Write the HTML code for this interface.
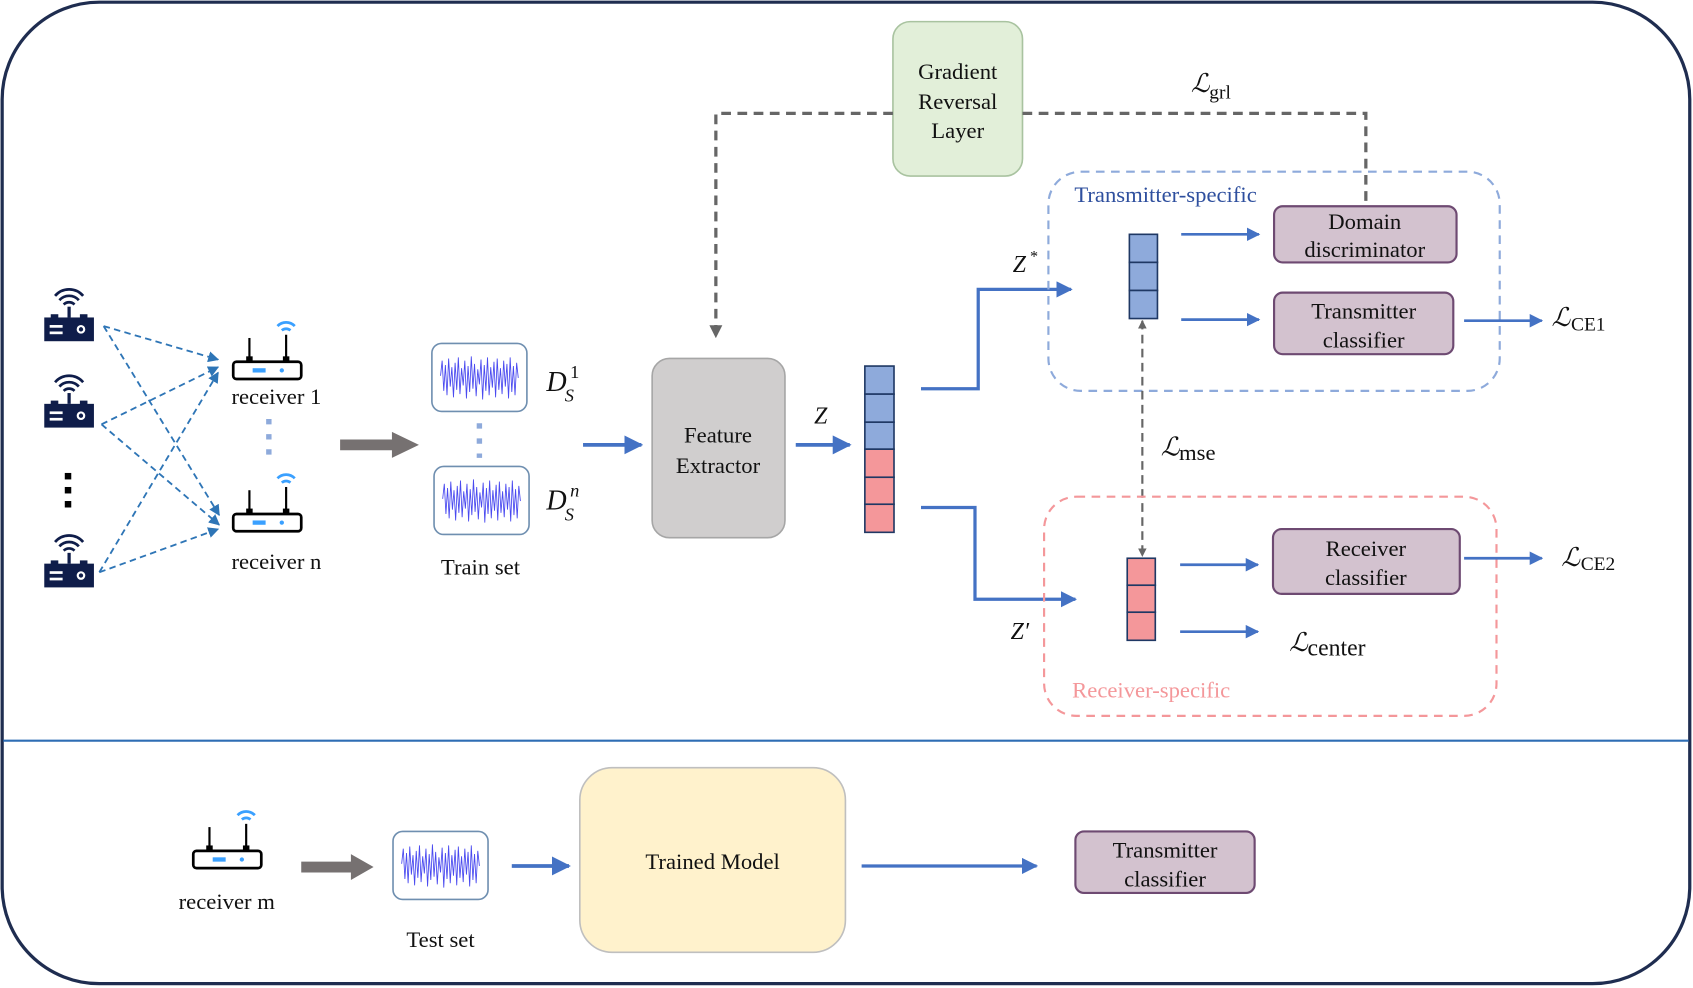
<!DOCTYPE html>
<html><head><meta charset="utf-8"><style>
html,body{margin:0;padding:0;background:#fff;}
svg{display:block;}
text{font-family:"Liberation Serif","DejaVu Serif",serif;fill:#111;}
.m{font-style:italic;}
</style></head><body>
<svg width="1693" height="988" viewBox="0 0 1568 915" xmlns="http://www.w3.org/2000/svg" font-family="Liberation Serif, DejaVu Serif, serif">
<defs>
<marker id="ab" viewBox="0 0 10 10" refX="9" refY="5" markerWidth="5" markerHeight="5" orient="auto"><path d="M0,0L10,5L0,10z" fill="#4472c4"/></marker>
<marker id="ad" viewBox="0 0 10 10" refX="9" refY="5" markerWidth="6" markerHeight="6" orient="auto"><path d="M0,0L10,5L0,10z" fill="#2e75b6"/></marker>
<marker id="ag" viewBox="0 0 10 10" refX="9" refY="5" markerWidth="4" markerHeight="4" orient="auto-start-reverse"><path d="M0,0L10,5L0,10z" fill="#666"/></marker>
<polyline id="wv" fill="none" stroke="#4a4af0" stroke-width="0.8" points="0,20 1.5,6 3,34 4.5,10 6,38 7.5,4 9,30 10.5,12 12,40 13.5,8 15,33 16.5,3 18,37 19.5,13 21,29 22.5,6 24,41 25.5,11 27,35 28.5,2 30,32 31.5,9 33,39 34.5,14 36,28 37.5,5 39,42 40.5,10 42,34 43.5,3 45,38 46.5,12 48,31 49.5,7 51,40 52.5,4 54,33 55.5,13 57,37 58.5,6 60,30 61.5,9 63,41 64.5,3 66,35 67.5,11 69,38 70.5,8 72,22"/>
<g id="tx">
<rect x="-23" y="-2" width="46" height="22" fill="#0f1d4a"/>
<rect x="-17" y="-5" width="7" height="4" fill="#0f1d4a"/><rect x="10" y="-5" width="7" height="4" fill="#0f1d4a"/>
<line x1="0" y1="-2" x2="0" y2="-12" stroke="#0f1d4a" stroke-width="3"/>
<path d="M-5,-14 A7,7 0 0 1 5,-14 M-9,-18 A12,12 0 0 1 9,-18 M-13,-22 A17,17 0 0 1 13,-22" fill="none" stroke="#0f1d4a" stroke-width="2.5"/>
<rect x="-18" y="5" width="12" height="2.5" fill="#fff"/><rect x="-18" y="11" width="12" height="2.5" fill="#fff"/>
<circle cx="11" cy="9" r="3" fill="none" stroke="#fff" stroke-width="2"/>
</g>
<g id="rx">
<rect x="-32" y="0" width="63" height="16" rx="3" fill="#fff" stroke="#000" stroke-width="2.5"/>
<line x1="-17" y1="0" x2="-17" y2="-22" stroke="#000" stroke-width="2"/>
<line x1="17" y1="0" x2="17" y2="-25" stroke="#000" stroke-width="2"/>
<rect x="-20" y="-5" width="6" height="5" fill="#000"/><rect x="14" y="-5" width="6" height="5" fill="#000"/>
<rect x="-14" y="6" width="12" height="4" fill="#3aa0ff"/><circle cx="13" cy="8" r="2" fill="#3aa0ff"/>
<path d="M13,-29 A6,6 0 0 1 21,-29 M9,-33 A11,11 0 0 1 25,-33" fill="none" stroke="#3aa0ff" stroke-width="2.5"/>
</g>
</defs>

<rect x="2" y="2" width="1563" height="909" rx="90" fill="#fff" stroke="#1f2d50" stroke-width="3"/>
<line x1="3" y1="686" x2="1564" y2="686" stroke="#2e6db4" stroke-width="2"/>

<use href="#tx" x="64" y="296"/><use href="#tx" x="64" y="376"/><use href="#tx" x="64" y="524"/>
<rect x="60" y="438" width="6" height="6" fill="#000"/><rect x="60" y="451" width="6" height="6" fill="#000"/><rect x="60" y="464" width="6" height="6" fill="#000"/>
<g stroke="#2e75b6" stroke-width="1.7" stroke-dasharray="6,4" fill="none" marker-end="url(#ad)">
<line x1="96" y1="302" x2="202" y2="333"/>
<line x1="96" y1="302" x2="203" y2="477"/>
<line x1="94" y1="393" x2="202" y2="340"/>
<line x1="94" y1="393" x2="203" y2="486"/>
<line x1="92" y1="530" x2="202" y2="345"/>
<line x1="92" y1="530" x2="202" y2="490"/>
</g>
<use href="#rx" x="248" y="335"/><use href="#rx" x="248" y="476"/>
<text x="256" y="374" font-size="21" text-anchor="middle">receiver 1</text>
<text x="256" y="527" font-size="21" text-anchor="middle">receiver n</text>
<line x1="249" y1="388" x2="249" y2="422" stroke="#8eaadb" stroke-width="5" stroke-dasharray="5,9"/>

<path d="M315,407 L363,407 L363,400 L388,412 L363,424 L363,417 L315,417z" fill="#767171"/>

<rect x="400" y="318" width="88" height="63" rx="9" fill="#fff" stroke="#6f8fb0" stroke-width="1.5"/>
<use href="#wv" x="408" y="328"/>
<rect x="402" y="432" width="88" height="63" rx="9" fill="#fff" stroke="#6f8fb0" stroke-width="1.5"/>
<use href="#wv" x="410" y="442"/>
<line x1="444" y1="392" x2="444" y2="424" stroke="#8eaadb" stroke-width="5" stroke-dasharray="5,9"/>
<text x="506" y="362" font-size="26" class="m">D</text><text x="523" y="372" font-size="17" class="m">S</text><text x="528" y="350" font-size="17">1</text>
<text x="506" y="472" font-size="26" class="m">D</text><text x="523" y="482" font-size="17" class="m">S</text><text x="528" y="460" font-size="17" class="m">n</text>
<text x="445" y="532" font-size="21" text-anchor="middle">Train set</text>

<line x1="540" y1="412" x2="594" y2="412" stroke="#4472c4" stroke-width="3.5" marker-end="url(#ab)"/>
<rect x="604" y="332" width="123" height="166" rx="16" fill="#d0cece" stroke="#a6a6a6" stroke-width="1.5"/>
<text x="665" y="410" font-size="21" text-anchor="middle">Feature</text>
<text x="665" y="438" font-size="21" text-anchor="middle">Extractor</text>
<text x="754" y="392" font-size="22" class="m">Z</text>
<line x1="737" y1="412" x2="787" y2="412" stroke="#4472c4" stroke-width="3.5" marker-end="url(#ab)"/>
<g stroke="#1f3864" stroke-width="1.5">
<rect x="801" y="339" width="27" height="26" fill="#8eaadb"/><rect x="801" y="365" width="27" height="26" fill="#8eaadb"/><rect x="801" y="391" width="27" height="25" fill="#8eaadb"/>
<rect x="801" y="416" width="27" height="26" fill="#f4979a"/><rect x="801" y="442" width="27" height="25" fill="#f4979a"/><rect x="801" y="467" width="27" height="26" fill="#f4979a"/>
</g>
<polyline points="853,360 906,360 906,268 992,268" fill="none" stroke="#4472c4" stroke-width="3" marker-end="url(#ab)"/>
<polyline points="853,470 903,470 903,555 996,555" fill="none" stroke="#4472c4" stroke-width="3" marker-end="url(#ab)"/>
<text x="938" y="252" font-size="22" class="m">Z</text><text x="954" y="242" font-size="15">*</text>
<text x="936" y="592" font-size="22" class="m">Z′</text>

<rect x="827" y="20" width="120" height="143" rx="16" fill="#e2efd9" stroke="#a9c3a0" stroke-width="1.5"/>
<text x="887" y="73" font-size="21" text-anchor="middle">Gradient</text>
<text x="887" y="101" font-size="21" text-anchor="middle">Reversal</text>
<text x="887" y="128" font-size="21" text-anchor="middle">Layer</text>
<polyline points="827,105 663,105 663,312" fill="none" stroke="#666" stroke-width="3" stroke-dasharray="9,6" marker-end="url(#ag)"/>
<polyline points="947,105 1265,105 1265,186" fill="none" stroke="#666" stroke-width="3" stroke-dasharray="9,6"/>
<text x="1103" y="85" font-size="24" class="m">ℒ</text><text x="1120" y="91" font-size="18">grl</text>

<rect x="971" y="159" width="418" height="203" rx="30" fill="none" stroke="#8eaadb" stroke-width="2" stroke-dasharray="8,6"/>
<text x="995" y="187" font-size="21" style="fill:#2e4f9e">Transmitter-specific</text>
<g stroke="#1f3864" stroke-width="1.5" fill="#8eaadb">
<rect x="1046" y="217" width="26" height="26"/><rect x="1046" y="243" width="26" height="26"/><rect x="1046" y="269" width="26" height="26"/>
</g>
<line x1="1094" y1="217" x2="1166" y2="217" stroke="#4472c4" stroke-width="2.5" marker-end="url(#ab)"/>
<line x1="1094" y1="296" x2="1166" y2="296" stroke="#4472c4" stroke-width="2.5" marker-end="url(#ab)"/>
<rect x="1180" y="191" width="169" height="52" rx="8" fill="#d3c2cf" stroke="#6e4a72" stroke-width="2"/>
<text x="1264" y="212" font-size="21" text-anchor="middle">Domain</text>
<text x="1264" y="238" font-size="21" text-anchor="middle">discriminator</text>
<rect x="1180" y="271" width="166" height="57" rx="8" fill="#d3c2cf" stroke="#6e4a72" stroke-width="2"/>
<text x="1263" y="295" font-size="21" text-anchor="middle">Transmitter</text>
<text x="1263" y="322" font-size="21" text-anchor="middle">classifier</text>
<line x1="1356" y1="297" x2="1428" y2="297" stroke="#4472c4" stroke-width="2.5" marker-end="url(#ab)"/>
<text x="1437" y="302" font-size="24" class="m">ℒ</text><text x="1455" y="306" font-size="18">CE1</text>

<line x1="1058" y1="297" x2="1058" y2="515" stroke="#666" stroke-width="2" stroke-dasharray="8,5" marker-start="url(#ag)" marker-end="url(#ag)"/>
<text x="1075" y="422" font-size="24" class="m">ℒ</text><text x="1092" y="426" font-size="21">mse</text>

<rect x="967" y="460" width="419" height="203" rx="30" fill="none" stroke="#f4979a" stroke-width="2" stroke-dasharray="8,6"/>
<text x="993" y="646" font-size="21" style="fill:#f4979a">Receiver-specific</text>
<g stroke="#1f3864" stroke-width="1.5" fill="#f4979a">
<rect x="1044" y="517" width="26" height="25"/><rect x="1044" y="542" width="26" height="25"/><rect x="1044" y="567" width="26" height="26"/>
</g>
<line x1="1093" y1="523" x2="1165" y2="523" stroke="#4472c4" stroke-width="2.5" marker-end="url(#ab)"/>
<line x1="1093" y1="585" x2="1165" y2="585" stroke="#4472c4" stroke-width="2.5" marker-end="url(#ab)"/>
<rect x="1179" y="490" width="173" height="60" rx="8" fill="#d3c2cf" stroke="#6e4a72" stroke-width="2"/>
<text x="1265" y="515" font-size="21" text-anchor="middle">Receiver</text>
<text x="1265" y="542" font-size="21" text-anchor="middle">classifier</text>
<line x1="1356" y1="517" x2="1428" y2="517" stroke="#4472c4" stroke-width="2.5" marker-end="url(#ab)"/>
<text x="1446" y="524" font-size="24" class="m">ℒ</text><text x="1464" y="528" font-size="18">CE2</text>
<text x="1194" y="603" font-size="24" class="m">ℒ</text><text x="1211" y="607" font-size="22">center</text>

<use href="#rx" x="211" y="788"/>
<text x="210" y="842" font-size="21" text-anchor="middle">receiver m</text>
<path d="M279,798 L325,798 L325,791 L346,803 L325,815 L325,808 L279,808z" fill="#767171"/>
<rect x="364" y="770" width="88" height="63" rx="9" fill="#fff" stroke="#6f8fb0" stroke-width="1.5"/>
<use href="#wv" x="372" y="780"/>
<text x="408" y="877" font-size="21" text-anchor="middle">Test set</text>
<line x1="474" y1="802" x2="527" y2="802" stroke="#4472c4" stroke-width="3.5" marker-end="url(#ab)"/>
<rect x="537" y="711" width="246" height="171" rx="30" fill="#fff2cc" stroke="#bfbfbf" stroke-width="1.5"/>
<text x="660" y="805" font-size="21" text-anchor="middle">Trained Model</text>
<line x1="798" y1="802" x2="960" y2="802" stroke="#4472c4" stroke-width="3" marker-end="url(#ab)"/>
<rect x="996" y="770" width="166" height="57" rx="8" fill="#d3c2cf" stroke="#6e4a72" stroke-width="2"/>
<text x="1079" y="794" font-size="21" text-anchor="middle">Transmitter</text>
<text x="1079" y="821" font-size="21" text-anchor="middle">classifier</text>
</svg>
</body></html>
